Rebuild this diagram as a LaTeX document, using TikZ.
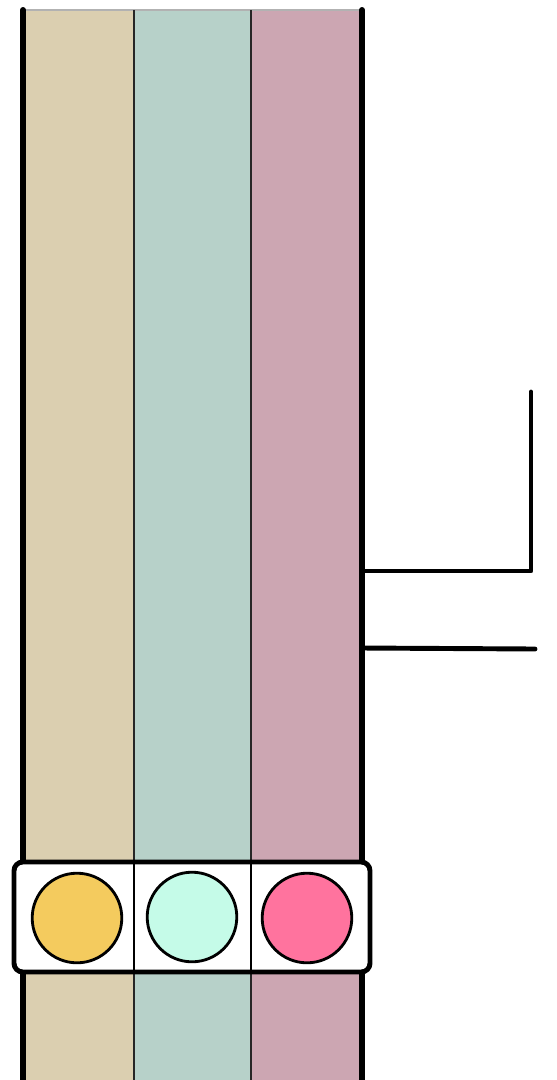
\documentclass[tikz,border=0pt]{standalone}
\usepackage{tikz}
\definecolor{tanband}{HTML}{DBCFB0}
\definecolor{sageband}{HTML}{B7D1C9}
\definecolor{roseband}{HTML}{CCA6B2}
\definecolor{sunlamp}{HTML}{F4CB5E}
\definecolor{mintlamp}{HTML}{C5FBE8}
\definecolor{pinklamp}{HTML}{FF739E}
\tikzset{
  railline/.style={line width=3.4pt,line cap=round},
  wireline/.style={line width=2.8pt,line cap=round,line join=round},
  lamp/.style={circle,draw,line width=1.6pt,minimum width=51pt,minimum height=49pt,inner sep=0pt}
}
\begin{document}
\begin{tikzpicture}[x=0.02cm,y=-0.02cm]
\useasboundingbox (0,0) rectangle (556,1080);
\fill[tanband] (23,10) rectangle (134,1080);
\fill[sageband] (134,10) rectangle (251,1080);
\fill[roseband] (251,10) rectangle (362,1080);
\draw[gray!60,line width=0.6pt] (23,10) -- (362,10);
\draw[black!85,line width=1.1pt] (134,10) -- (134,1080);
\draw[black!85,line width=1.1pt] (251,10) -- (251,1080);
\draw[railline] (23,10) -- (23,1085);
\draw[railline] (362,10) -- (362,1085);
\coordinate (tapA) at (362,571);
\coordinate (tapB) at (362,648);
\coordinate (bendA) at (531,571);
\coordinate (topA) at (531,392);
\coordinate (endB) at (535,649);
\draw[wireline] (tapA) -- (bendA) -- (topA);
\draw[wireline] (tapB) -- (endB);
\draw[fill=white,line width=2.8pt,rounded corners=5pt] (14,862) rectangle (370,972);
\draw[black,line width=0.7pt] (134,862) -- (134,972);
\draw[black,line width=0.7pt] (251,862) -- (251,972);
\node[lamp,fill=sunlamp] (yellowlamp) at (77,918) {};
\node[lamp,fill=mintlamp] (mintlamp) at (192,917) {};
\node[lamp,fill=pinklamp] (pinklamp) at (307,918) {};
\end{tikzpicture}
\end{document}
